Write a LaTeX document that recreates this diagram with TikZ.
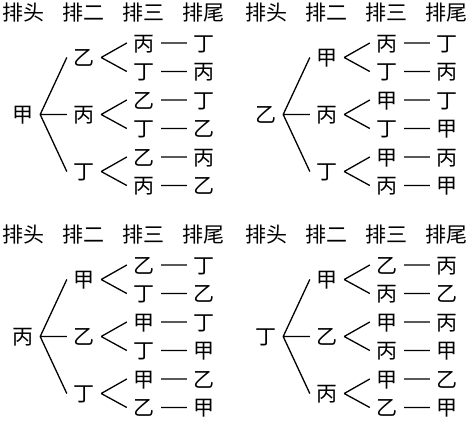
\documentclass[tikz,border=0pt]{standalone}
\usepackage{fontspec}
\newfontfamily\cjk{Noto Sans CJK SC}
\usepackage{tikz}
\usetikzlibrary{positioning}

\tikzset{
  ch/.style={inner sep=6.5pt,font=\cjk\fontsize{21}{21}\selectfont,
    text height=18.5pt,text depth=2.5pt},
  hd/.style={ch},
  br/.style={line width=1.3pt},
}

\newcommand{\leafpair}[4]{%
  \node[ch] (#1u) at (121,#4) {#2};
  \node[ch] (#1uu) at (181,#4) {#3};
  \node[ch] (#1d) at (121,#4+28.5) {#3};
  \node[ch] (#1dd) at (181,#4+28.5) {#2};
  \draw[br] (#1.east) -- (#1u.west) (#1.east) -- (#1d.west)
    (#1u) -- (#1uu) (#1d) -- (#1dd);
}

\newcommand{\permtree}[6]{%
  \begin{scope}[shift={#2}]
    \foreach \w [count=\i] in {排头,排二,排三,排尾}
      \node[hd] (#1h\i) at ({(\i-1)*60.2},-102.5) {\w};
    \node[ch] (#1r) at (0,0) {#3};
    \node[ch] (#1a) at (61,-57) {#4};
    \node[ch] (#1b) at (61,0) {#5};
    \node[ch] (#1c) at (61,57) {#6};
    \draw[br] (#1r.east) -- (#1a.west) (#1r.east) -- (#1b.west)
      (#1r.east) -- (#1c.west);
    \leafpair{#1a}{#5}{#6}{-71.5}
    \leafpair{#1b}{#4}{#6}{-14.5}
    \leafpair{#1c}{#4}{#5}{42.5}
  \end{scope}}

\begin{document}
\begin{tikzpicture}[x=1pt,y=-1pt]
  \useasboundingbox (0,0) rectangle (471,421);
  \permtree{jia}{(23,114.5)}{甲}{乙}{丙}{丁}
  \permtree{yi}{(266,114.5)}{乙}{甲}{丙}{丁}
  \permtree{bing}{(23,336.5)}{丙}{甲}{乙}{丁}
  \permtree{ding}{(266,336.5)}{丁}{甲}{乙}{丙}
\end{tikzpicture}
\end{document}
